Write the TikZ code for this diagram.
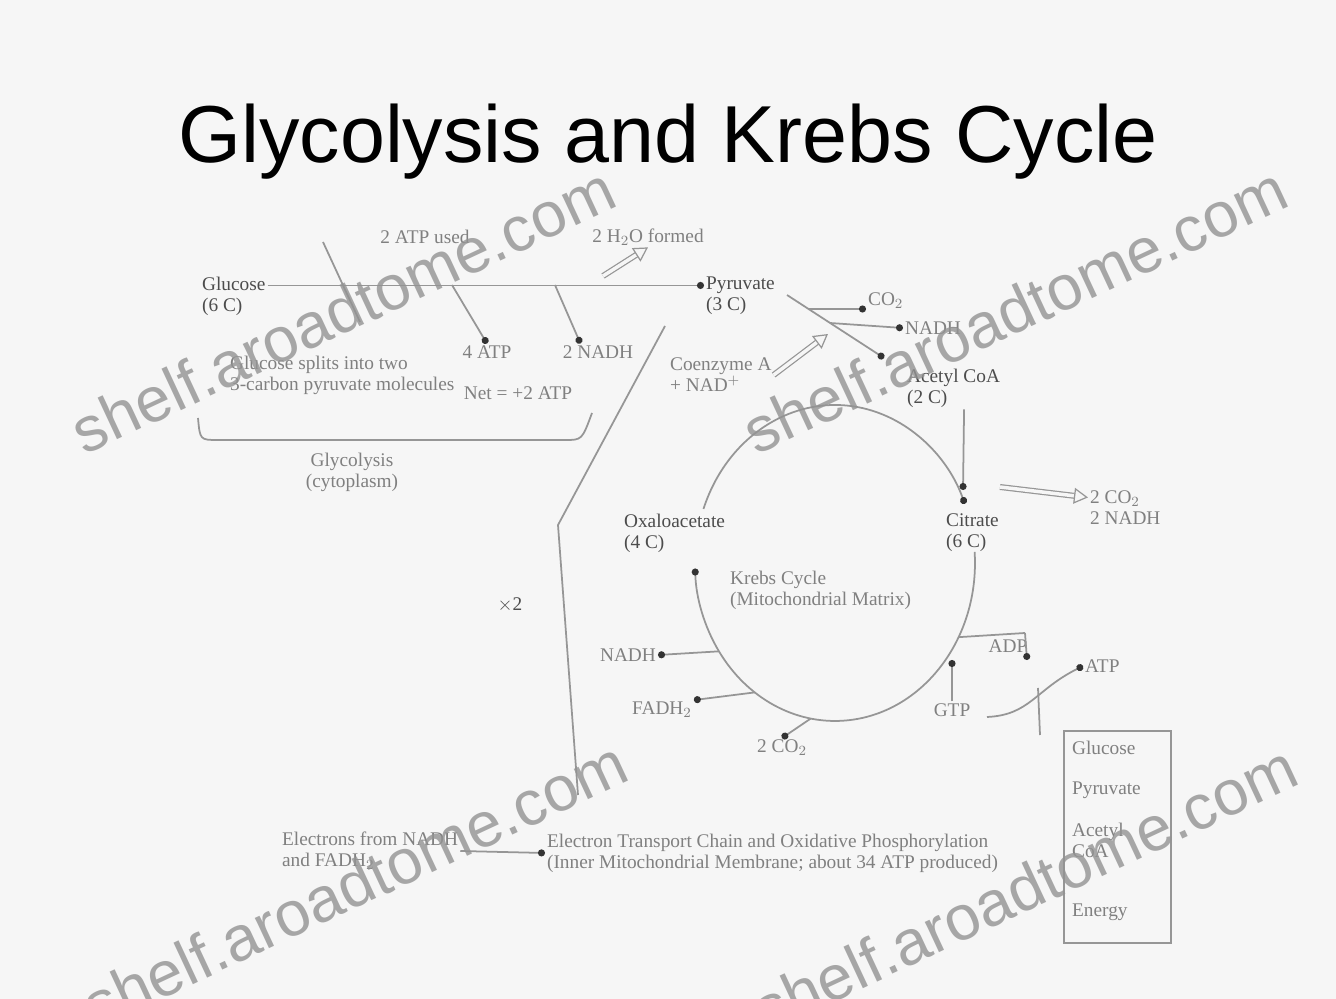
\documentclass[tikz,border=0pt]{standalone}
\usepackage{fontspec}
\setmainfont{Liberation Serif}
\newfontfamily\titulo{Liberation Sans}
\usetikzlibrary{arrows.meta}
\definecolor{fondo}{RGB}{246,246,246}
\definecolor{tinta}{RGB}{128,128,128}
\definecolor{trazo}{RGB}{150,150,150}

\begin{document}
\begin{tikzpicture}[x=0.02cm, y=-0.02cm,
    lbl/.style={font=\fontsize{11}{12}\selectfont, text=tinta, inner sep=1pt, align=left, fill=fondo},
    fuerte/.style={lbl, text=gray!60!black},
    linea/.style={draw=trazo, line width=1pt},
    punto/.style={linea, -{Circle[length=4pt, color=black!80, fill=black!80]}},
    hueca/.style={draw=trazo, double=fondo, double distance=2pt, line width=0.7pt, -{Triangle[open, length=8pt, width=9pt]}},
    marca/.style={font=\titulo\fontsize{36}{40}\selectfont, text=gray!85, rotate=25, opacity=0.8}]

    % Fondo
    \fill[fondo] (0,0) rectangle (1336,999);
    \useasboundingbox (0,0) rectangle (1336,999);

    % Titulo
    \node[font=\titulo\fontsize{46}{50}\selectfont] (titulo) at (668,142) {Glycolysis and Krebs Cycle};

    % Glucolisis: glucosa -> piruvato
    \node[fuerte, anchor=west] (glucosa) at (200,296) {Glucose\\(6 C)};
    \node[fuerte, anchor=west] (piruvato) at (704,296) {Pyruvate\\(3 C)};
    \draw[punto] ([yshift=6pt]glucosa.east) -- ([yshift=6pt]piruvato.west);

    % ATP invertido y productos
    \coordinate (d1) at (323,242);
    \coordinate (d2) at (360,322);
    \draw[linea] (d1) -- (d2);
    \node[lbl] (atpuso) at (425,237) {2 ATP used};
    \node[lbl] (agua) at (648,237) {2 H$_2$O formed};
    \coordinate (h1) at (603,276);
    \draw[hueca] (h1) -- (agua.south);

    \coordinate (r1) at (452,285);
    \coordinate (r2) at (555,285);
    \node[lbl] (atp4) at (487,352) {4 ATP};
    \node[lbl] (nadh1) at (598,352) {2 NADH};
    \draw[punto] (r1) -- (atp4.north);
    \draw[punto] (r2) -- ([xshift=-10pt]nadh1.north);
    \node[lbl] (neto) at (518,393) {Net = +2 ATP};

    \node[lbl, anchor=west] (desc) at (228,375) {Glucose splits into two\\3-carbon pyruvate molecules};

    % Llave
    \draw[linea] (198,418) .. controls (200,440) .. (218,440) -- (565,440) .. controls (582,440) .. (592,413);
    \node[lbl, align=center] (gluco) at (352,472) {Glycolysis\\(cytoplasm)};

    % Linea larga y x2
    \coordinate (l1) at (665,326);
    \coordinate (l2) at (558,525);
    \coordinate (l3) at (578,795);
    \draw[linea] (l1) -- (l2) -- (l3);
    \node[lbl, text=gray!60!black] (por2) at (510,605) {$\times$2};

    % Piruvato -> Acetil CoA
    \node[fuerte, anchor=west] (acetil) at (905,388) {Acetyl CoA\\(2 C)};
    \coordinate (p1) at (787,295);
    \coordinate (p2) at (884,358);
    \draw[punto] (p1) -- (p2);
    \coordinate (p3) at (808,309);
    \node[lbl, anchor=west] (co2a) at (866,301) {CO$_2$};
    \draw[punto] (p3) -- (p3 -| co2a.west);
    \coordinate (p4) at (830,323);
    \node[lbl, anchor=west] (nadh2) at (903,328) {NADH};
    \draw[punto] (p4) -- (nadh2.west);
    \node[lbl, anchor=west] (coa) at (668,375) {Coenzyme A\\+ NAD$^+$};
    \coordinate (p5) at (828,334);
    \draw[hueca] (coa.east) -- (p5);

    % Ciclo de Krebs
    \coordinate (centro) at (835,563);
    \node[fuerte, anchor=west] (citrato) at (944,533) {Citrate\\(6 C)};
    \node[fuerte, anchor=west] (oxalo) at (622,533) {Oxaloacetate\\(4 C)};
    \coordinate (c1) at (963,490);
    \draw[punto] ([xshift=6pt]acetil.south) -- (c1);
    \draw[punto] (centro) ++(160:2.8cm and 3.16cm) arc[start angle=160, end angle=22, x radius=2.8cm, y radius=3.16cm];
    \draw[punto] (centro) ++(4:2.8cm and 3.16cm) arc[start angle=4, end angle=-178, x radius=2.8cm, y radius=3.16cm];
    \node[lbl, anchor=west] (krebs) at (728,590) {Krebs Cycle\\(Mitochondrial Matrix)};

    % Salidas del ciclo
    \node[lbl, anchor=west] (co2b) at (1088,508) {2 CO$_2$\\2 NADH};
    \coordinate (h3) at (1000,487);
    \draw[hueca] (h3) -- ([yshift=6pt]co2b.west);

    \node[lbl, anchor=east] (nadh3) at (658,655) {NADH};
    \draw[punto] (centro) ++(-146:2.8cm and 3.16cm) -- (nadh3.east);
    \node[lbl] (fadh) at (662,710) {FADH$_2$};
    \draw[punto] (centro) ++(-125:2.8cm and 3.16cm) -- (fadh.north east);
    \node[lbl] (co2c) at (782,748) {2 CO$_2$};
    \draw[punto] (centro) ++(-100:2.8cm and 3.16cm) -- (co2c.north);

    % GTP / ADP -> ATP
    \node[lbl] (adp) at (1008,646) {ADP};
    \coordinate (q1) at (1025,633);
    \coordinate (q2) at (1027,660);
    \draw[linea] (centro) ++(-28:2.8cm and 3.16cm) -- (q1);
    \draw[punto] (q1) -- (q2);
    \node[lbl] (gtp) at (952,710) {GTP};
    \draw[punto] (gtp.north) -- (gtp.north |- q2);
    \node[lbl, anchor=west] (atp5) at (1083,666) {ATP};
    \coordinate (q3) at (987,717);
    \draw[punto] (q3) .. controls (1030,715) and (1035,690) .. (atp5.west);
    \coordinate (q4) at (1038,688);
    \coordinate (q5) at (1040,735);
    \draw[linea] (q4) -- (q5);

    % Leyenda
    \node[draw=trazo, line width=1pt, minimum width=2.14cm, minimum height=4.24cm, anchor=north west] (leyenda) at (1063,730) {};
    \foreach \ty/\etiq in {748/Glucose, 790/Pyruvate, 840/Acetyl\\CoA, 912/Energy} {
        \node[lbl, anchor=west] at (1070,\ty) {\etiq};
    }

    % Cadena de electrones
    \node[lbl, anchor=west] (electrones) at (280,851) {Electrons from NADH\\and FADH$_2$};
    \node[lbl, anchor=west] (cadena) at (545,853) {Electron Transport Chain and Oxidative Phosphorylation\\(Inner Mitochondrial Membrane; about 34 ATP produced)};
    \draw[punto] (electrones.east) -- (cadena.west);

    % Marca de agua
    \foreach \wx/\wy in {343/310, 1015/310, 355/884, 1025/888} {
        \node[marca] (wm-\wx) at (\wx,\wy) {shelf.aroadtome.com};
    }
\end{tikzpicture}
\end{document}
